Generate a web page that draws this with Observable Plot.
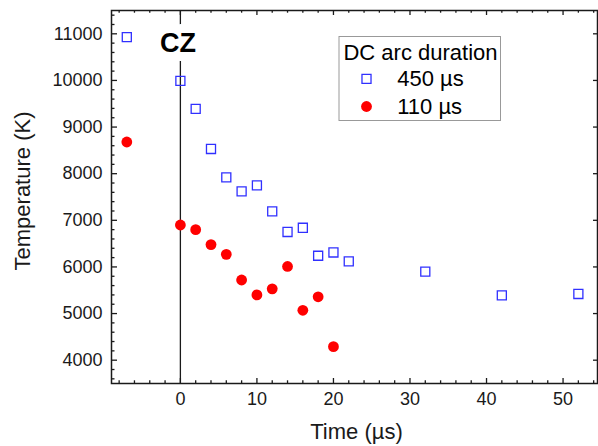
<!DOCTYPE html>
<html>
<head>
<meta charset="utf-8">
<script src="https://cdn.jsdelivr.net/npm/d3@7"></script>
<script src="https://cdn.jsdelivr.net/npm/@observablehq/plot@0.6"></script>
<style>
  html, body { margin: 0; padding: 0; background: #fff; }
  #chart svg { display: block; font-family: "Liberation Sans", Arial, sans-serif; }
</style>
</head>
<body>
<div id="chart"></div>
<script>
// ---- data ----
const time450 = [-7, 0, 2, 4, 6, 8, 10, 12, 14, 16, 18, 20, 22, 32, 42, 52];
const temp450 = [10930, 9990, 9390, 8530, 7920, 7620, 7750, 7190, 6750, 6840, 6240, 6310, 6120, 5900, 5390, 5420];
const time110 = [-7, 0, 2, 4, 6, 8, 10, 12, 14, 16, 18, 20];
const temp110 = [8680, 6900, 6800, 6480, 6270, 5720, 5400, 5530, 6010, 5070, 5360, 4290];
const seriesNames = ["450 µs", "110 µs"];
const legendTitle = "DC arc duration";
const czTime = 0;
const czLabel = "CZ";
const xTicks = [0, 10, 20, 30, 40, 50];
const yTicks = [4000, 5000, 6000, 7000, 8000, 9000, 10000, 11000];
const xDomain = [-9, 54.5];
const yDomain = [3500, 11500];
const xLabel = "Time (µs)";
const yLabel = "Temperature (K)";

// ---- layout ----
const width = 598, height = 446;
const mL = 111, mR = 1, mT = 10, mB = 63;
const plotW = width - mL - mR, plotH = height - mT - mB;
const blue = "#3030ff", red = "#ff0000", ink = "#1a1a1a";
const font = "Liberation Sans, Arial, sans-serif";

const xMinor = d3.range(-8, 55, 2).filter(v => !xTicks.includes(v));
const yMinor = d3.range(3600, 11500, 200).filter(v => !yTicks.includes(v));

const d450 = time450.map((t, i) => ({t, T: temp450[i]}));
const d110 = time110.map((t, i) => ({t, T: temp110[i]}));

const chart = Plot.plot({
  width, height,
  marginLeft: mL, marginRight: mR, marginTop: mT, marginBottom: mB,
  style: {fontFamily: font, background: "#fff", color: ink},
  x: {domain: xDomain},
  y: {domain: yDomain},
  marks: [
    // CZ vertical line and label
    Plot.ruleX([czTime], {stroke: ink, strokeWidth: 1.3}),
    Plot.text([czLabel], {x: () => czTime, frameAnchor: "top", dx: -2.5, dy: 32.5, lineAnchor: "middle",
      text: d => d, fontSize: 27, fontWeight: "bold", fill: "#000", stroke: "#fff", strokeWidth: 18, strokeLinejoin: "round"}),
    // data
    Plot.dot(d450, {x: "t", y: "T", symbol: "square", r: 5.1, stroke: blue, strokeWidth: 1.3, fill: "none"}),
    Plot.dot(d110, {x: "t", y: "T", symbol: "circle", r: 5.4, fill: red, stroke: "none"}),
    // frame
    Plot.frame({stroke: ink, strokeWidth: 1.5}),
    // inward ticks: bottom
    Plot.ruleX(xTicks, {x: d => d, insetTop: plotH - 5, stroke: ink, strokeWidth: 1.3}),
    Plot.ruleX(xMinor, {x: d => d, insetTop: plotH - 2.7, stroke: ink, strokeWidth: 1.3}),
    // top
    Plot.ruleX(xTicks, {x: d => d, insetBottom: plotH - 5, stroke: ink, strokeWidth: 1.3}),
    Plot.ruleX(xMinor, {x: d => d, insetBottom: plotH - 2.7, stroke: ink, strokeWidth: 1.3}),
    // left
    Plot.ruleY(yTicks, {y: d => d, insetRight: plotW - 6, stroke: ink, strokeWidth: 1.3}),
    Plot.ruleY(yMinor, {y: d => d, insetRight: plotW - 3.5, stroke: ink, strokeWidth: 1.3}),
    // right
    Plot.ruleY(yTicks, {y: d => d, insetLeft: plotW - 4, stroke: ink, strokeWidth: 1.3}),
    // tick labels
    Plot.axisX({ticks: xTicks, tickSize: 0, tickPadding: 9, fontSize: 18, label: null, fill: ink}),
    Plot.axisY({ticks: yTicks, tickSize: 0, tickPadding: 9, fontSize: 18, label: null, fill: ink, tickFormat: d => String(d)}),
    // axis titles
    Plot.text([xLabel], {frameAnchor: "bottom", dx: 2, dy: 48.5, lineAnchor: "middle", text: d => d, fontSize: 22, fill: ink}),
    Plot.text([yLabel], {frameAnchor: "left", dx: -89, dy: -6, rotate: -90, textAnchor: "middle", lineAnchor: "middle", text: d => d, fontSize: 22, fill: ink}),
    // legend
    Plot.frame({stroke: "#999", strokeWidth: 1, insetLeft: 227.5, insetTop: 26, insetRight: 97, insetBottom: 263}),
    Plot.text([legendTitle], {frameAnchor: "top-left", dx: 309, dy: 42, textAnchor: "middle", lineAnchor: "middle", text: d => d, fontSize: 22, fill: "#000"}),
    Plot.dot([seriesNames[0]], {frameAnchor: "top-left", dx: 255, dy: 68.3, symbol: "square", r: 5.1, stroke: blue, strokeWidth: 1.3, fill: "none"}),
    Plot.text([seriesNames[0]], {frameAnchor: "top-left", dx: 285.7, dy: 68.5, textAnchor: "start", lineAnchor: "middle", text: d => d, fontSize: 22, fill: "#000"}),
    Plot.dot([seriesNames[1]], {frameAnchor: "top-left", dx: 255, dy: 96, symbol: "circle", r: 5.4, fill: red, stroke: "none"}),
    Plot.text([seriesNames[1]], {frameAnchor: "top-left", dx: 285.7, dy: 96.5, textAnchor: "start", lineAnchor: "middle", text: d => d, fontSize: 22, fill: "#000"})
  ]
});
document.getElementById("chart").appendChild(chart);
</script>
</body>
</html>
